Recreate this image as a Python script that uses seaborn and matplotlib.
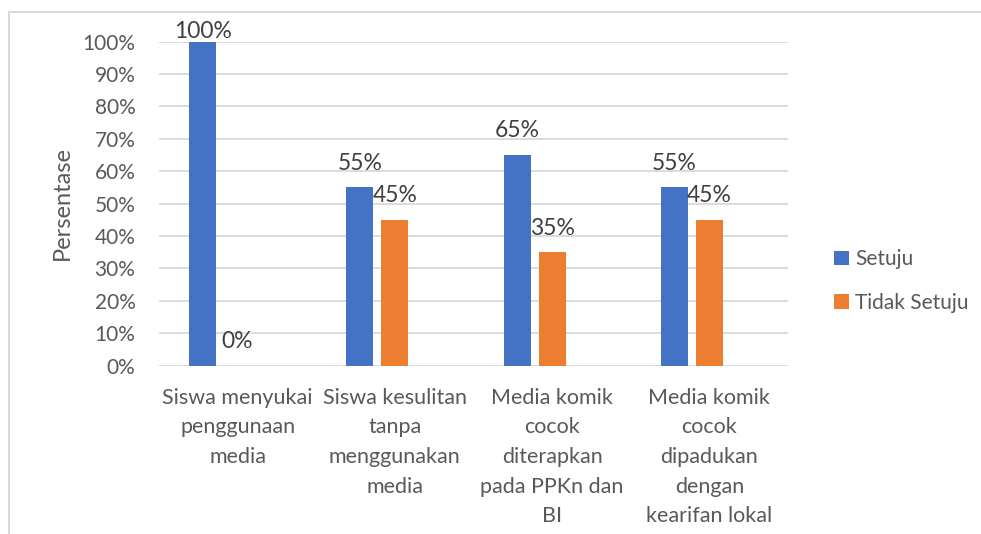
import pandas as pd
import numpy as np
import seaborn as sns
import matplotlib.pyplot as plt
from matplotlib.patches import Rectangle, Patch

# data
kategori = [
    "Siswa menyukai\npenggunaan\nmedia",
    "Siswa kesulitan\ntanpa\nmenggunakan\nmedia",
    "Media komik\ncocok\nditerapkan\npada PPKn dan\nBI",
    "Media komik\ncocok\ndipadukan\ndengan\nkearifan lokal",
]
setuju = [100, 55, 65, 55]
tidak_setuju = [0, 45, 35, 45]
seri = ["Setuju", "Tidak Setuju"]
warna = ["#4472C4", "#ED7D31"]
y_ticks = list(range(0, 101, 10))


def graph():
    sns.set_style("white")
    plt.rcParams["font.family"] = ["Lato", "DejaVu Sans"]
    plt.rcParams["font.size"] = 15

    # Excel chart had a third (empty) series taking up a slot in each cluster
    df = pd.DataFrame({
        "kategori": kategori * 3,
        "seri": [seri[0]] * 4 + [seri[1]] * 4 + ["kosong"] * 4,
        "nilai": setuju + tidak_setuju + [0] * 4,
    })

    fig = plt.figure(figsize=(9.81, 5.34), dpi=100)
    ax = fig.add_axes([159 / 981, 1 - 365.5 / 534, (788 - 159) / 981, (365.5 - 41.5) / 534])

    sns.barplot(data=df, x="kategori", y="nilai", hue="seri",
                hue_order=seri + ["kosong"],
                palette=warna + ["#ffffff"], width=0.667, gap=0.229,
                linewidth=0, saturation=1, legend=False, ax=ax)

    ax.set_xlim(-0.5, 3.5)
    ax.set_ylim(0, 100)
    ax.set_yticks(y_ticks)
    ax.set_yticklabels([f"{t}%" for t in y_ticks])
    ax.yaxis.grid(True, color="#d9d9d9", linewidth=1.3)
    ax.xaxis.grid(False)
    ax.set_axisbelow(True)
    sns.despine(ax=ax, left=True, bottom=True)
    ax.tick_params(axis="y", length=0, pad=17, labelcolor="#595959", labelsize=15)
    ax.tick_params(axis="x", length=0, pad=16, labelcolor="#595959", labelsize=15.5)
    for lbl in ax.get_xticklabels():
        lbl.set_linespacing(1.6)
    ax.set_xlabel("")
    ax.set_ylabel("Persentase", fontsize=17, color="#595959", labelpad=7)

    # data labels
    for cont, vals in zip(ax.containers[:2], [setuju, tidak_setuju]):
        for bar, v in zip(cont, vals):
            xc = bar.get_x() + bar.get_width() / 2
            ax.text(xc, min(v + 7.4, 103.2), f"{v}%", ha="center", va="center",
                    fontsize=16.5, color="#404040", clip_on=False)

    handles = [Patch(facecolor=c, edgecolor="none") for c in warna]
    fig.legend(handles, seri, loc="upper left", bbox_to_anchor=(826 / 981, 1 - 241 / 534),
               frameon=False, handlelength=0.7, handleheight=0.7, handletextpad=0.3,
               labelspacing=1.12, labelcolor="#595959", fontsize=15, borderaxespad=0)

    # border of the embedded chart object
    fig.add_artist(Rectangle((9 / 981, -0.1), 1.2, (534 - 12.5) / 534 + 0.1,
                             transform=fig.transFigure, fill=False,
                             edgecolor="#d9d9d9", linewidth=1.5))

    fig.savefig("out.png", dpi=100)


if __name__ == "__main__":
    graph()
